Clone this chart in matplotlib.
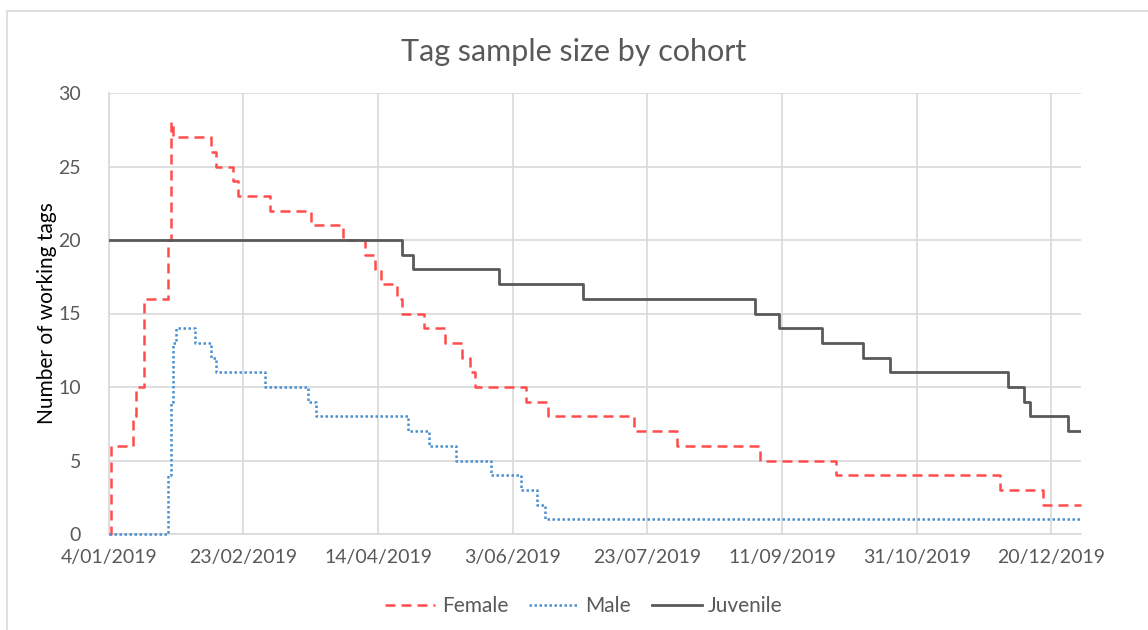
import matplotlib
matplotlib.use("Agg")
import matplotlib.pyplot as plt
import matplotlib.dates as mdates
from matplotlib.patches import Rectangle
import numpy as np
import datetime as dt

# change points: date the new count starts, and the count
female_dates = ["2019-01-04", "2019-01-05", "2019-01-13", "2019-01-14", "2019-01-15",
                "2019-01-17", "2019-01-26", "2019-01-27", "2019-01-28", "2019-02-11",
                "2019-02-13", "2019-02-19", "2019-02-21", "2019-03-05", "2019-03-20",
                "2019-04-01", "2019-04-09", "2019-04-13", "2019-04-15", "2019-04-21",
                "2019-04-23", "2019-05-01", "2019-05-09", "2019-05-15", "2019-05-18",
                "2019-05-20", "2019-06-08", "2019-06-16", "2019-07-18", "2019-08-03",
                "2019-09-03", "2019-10-01", "2019-12-01", "2019-12-17", "2019-12-31"]
female_vals = [0, 6, 8, 10, 10, 16, 20, 28, 27, 26, 25, 24, 23, 22, 21, 20, 19, 18, 17,
               16, 15, 14, 13, 12, 11, 10, 9, 8, 7, 6, 5, 4, 3, 2, 2]

male_dates = ["2019-01-04", "2019-01-26", "2019-01-27", "2019-01-28", "2019-01-29",
              "2019-02-05", "2019-02-11", "2019-02-13", "2019-03-03", "2019-03-19",
              "2019-03-22", "2019-04-25", "2019-05-03", "2019-05-13", "2019-05-26",
              "2019-06-06", "2019-06-12", "2019-06-15", "2019-12-31"]
male_vals = [0, 4, 9, 13, 14, 13, 12, 11, 10, 9, 8, 7, 6, 5, 4, 3, 2, 1, 1]

juv_dates = ["2019-01-04", "2019-04-23", "2019-04-27", "2019-05-29", "2019-06-29",
             "2019-09-01", "2019-09-10", "2019-09-26", "2019-10-11", "2019-10-21",
             "2019-12-04", "2019-12-10", "2019-12-12", "2019-12-26", "2019-12-31"]
juv_vals = [20, 19, 18, 17, 16, 15, 14, 13, 12, 11, 10, 9, 8, 7, 7]

grey = "#595959"
grid = "#d9d9d9"
plt.rcParams["font.family"] = ["Lato", "DejaVu Sans"]

fig = plt.figure(figsize=(11.48, 6.3), dpi=100)
ax = fig.add_axes([108.7 / 1148, 1 - 534 / 630, (1081 - 108.7) / 1148, (534 - 93) / 630])

fig.patches.append(Rectangle((7 / 1148, -0.1), 1.2, 1 - 11 / 630 + 0.1,
                             transform=fig.transFigure, fill=False,
                             edgecolor=grid, linewidth=1.2))

to_dates = lambda s: np.array(s, dtype="datetime64[D]")
ax.plot(to_dates(female_dates), female_vals, drawstyle="steps-post", color="#ff4d4d",
        lw=1.8, linestyle=(0, (4.0, 2.4)), label="Female", zorder=3, clip_on=False)
ax.plot(to_dates(male_dates), male_vals, drawstyle="steps-post", color="#4a90d0",
        lw=1.8, linestyle=(0, (1.0, 1.0)), label="Male", zorder=3, clip_on=False)
ax.plot(to_dates(juv_dates), juv_vals, drawstyle="steps-post", color=grey,
        lw=2.0, label="Juvenile", zorder=3)

start = dt.date(2019, 1, 4)
ticks = [start + dt.timedelta(days=50 * k) for k in range(8)]
ax.set_xticks(ticks)
ax.xaxis.set_major_formatter(plt.FuncFormatter(
    lambda v, p: (lambda d: f"{d.day}/{d:%m/%Y}")(mdates.num2date(v))))
ax.set_xlim(start, dt.date(2019, 12, 31))
ax.set_ylim(0, 30)
ax.set_yticks(range(0, 31, 5))

ax.grid(True, color=grid, lw=1.2)
ax.set_axisbelow(True)
for side in ["top", "right"]:
    ax.spines[side].set_visible(False)
for side in ["left", "bottom"]:
    ax.spines[side].set_color(grid)
    ax.spines[side].set_linewidth(1.2)
    ax.spines[side].set_zorder(1)
ax.tick_params(length=0, labelsize=14, labelcolor=grey)
ax.tick_params(axis="x", pad=11)
ax.tick_params(axis="y", pad=20)

ax.set_ylabel("Number of working tags", fontsize=15, color="black", labelpad=1)
fig.text(0.5, 1 - 52 / 630, "Tag sample size by cohort", ha="center", va="center",
         fontsize=22, color=grey)

fig.legend(loc="center", bbox_to_anchor=(584 / 1148, 1 - 606 / 630), ncol=3,
           frameon=False, fontsize=15, labelcolor=grey, handlelength=2.4,
           handletextpad=0.3, columnspacing=1.0)

fig.savefig("out.png", dpi=100)
